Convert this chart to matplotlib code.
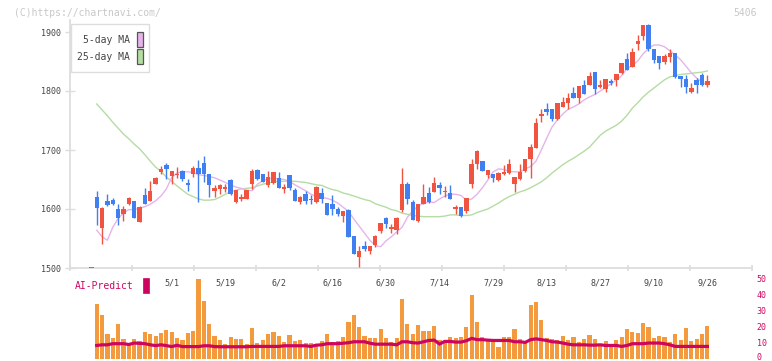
import matplotlib
matplotlib.use("Agg")
import matplotlib.pyplot as plt
from matplotlib.patches import Rectangle
from matplotlib.transforms import ScaledTranslation
import numpy as np
import pandas as pd

# ---------------- data ----------------
holidays = ["2025-04-29", "2025-05-05", "2025-05-06", "2025-07-21",
            "2025-08-11", "2025-09-15", "2025-09-23"]
dates = pd.bdate_range("2025-04-10", "2025-09-26", freq="C", holidays=holidays)

opens = [1620, 1568, 1613, 1615, 1600, 1592, 1609, 1614, 1578, 1624,
         1614, 1643, 1663, 1675, 1656, 1658, 1664, 1644, 1660, 1669,
         1678, 1659, 1631, 1634, 1634, 1649, 1612, 1617, 1617, 1643,
         1666, 1659, 1640, 1644, 1653, 1634, 1658, 1632, 1612, 1625,
         1617, 1612, 1627, 1610, 1608, 1600, 1588, 1598, 1554, 1519,
         1538, 1529, 1539, 1563, 1585, 1566, 1565, 1599, 1642, 1612,
         1580, 1609, 1627, 1629, 1641, 1628, 1627, 1600, 1603, 1597,
         1643, 1676, 1681, 1658, 1659, 1650, 1659, 1661, 1642, 1651,
         1664, 1685, 1704, 1758, 1769, 1769, 1753, 1773, 1780, 1796,
         1788, 1811, 1811, 1832, 1807, 1803, 1817, 1819, 1831, 1854,
         1841, 1879, 1894, 1912, 1871, 1859, 1849, 1858, 1864, 1825,
         1820, 1798, 1819, 1827, 1810]
highs = [1631, 1603, 1625, 1619, 1608, 1605, 1620, 1614, 1605, 1635,
         1647, 1654, 1673, 1678, 1665, 1671, 1666, 1651, 1673, 1683,
         1690, 1659, 1641, 1642, 1642, 1651, 1633, 1625, 1633, 1667,
         1667, 1659, 1664, 1663, 1663, 1642, 1658, 1635, 1622, 1630,
         1624, 1639, 1636, 1610, 1624, 1603, 1597, 1600, 1554, 1538,
         1546, 1537, 1556, 1576, 1587, 1574, 1587, 1669, 1646, 1615,
         1608, 1643, 1637, 1654, 1646, 1639, 1641, 1607, 1603, 1619,
         1685, 1700, 1682, 1666, 1659, 1663, 1675, 1684, 1654, 1676,
         1685, 1711, 1755, 1770, 1779, 1769, 1779, 1789, 1796, 1807,
         1809, 1818, 1832, 1832, 1818, 1820, 1820, 1829, 1848, 1864,
         1873, 1895, 1912, 1914, 1871, 1859, 1863, 1872, 1864, 1825,
         1827, 1813, 1822, 1831, 1827]
lows = [1573, 1540, 1605, 1607, 1573, 1580, 1607, 1585, 1578, 1609,
        1614, 1642, 1659, 1651, 1642, 1652, 1647, 1631, 1655, 1612,
        1646, 1621, 1621, 1625, 1629, 1624, 1611, 1614, 1617, 1634,
        1649, 1645, 1637, 1642, 1636, 1627, 1633, 1614, 1608, 1608,
        1608, 1610, 1610, 1590, 1590, 1588, 1578, 1553, 1524, 1502,
        1529, 1524, 1536, 1559, 1568, 1560, 1558, 1595, 1609, 1581,
        1578, 1609, 1610, 1628, 1626, 1621, 1617, 1592, 1587, 1594,
        1636, 1668, 1664, 1652, 1645, 1648, 1658, 1659, 1629, 1649,
        1663, 1653, 1703, 1748, 1759, 1750, 1751, 1773, 1770, 1788,
        1780, 1795, 1810, 1795, 1805, 1799, 1811, 1808, 1829, 1836,
        1841, 1869, 1887, 1867, 1848, 1837, 1845, 1850, 1822, 1807,
        1797, 1796, 1797, 1809, 1807]
closes = [1602, 1602, 1606, 1608, 1584, 1600, 1619, 1585, 1603, 1609,
          1630, 1653, 1668, 1668, 1665, 1660, 1651, 1641, 1669, 1660,
          1659, 1641, 1636, 1641, 1637, 1625, 1632, 1621, 1632, 1664,
          1651, 1645, 1655, 1663, 1636, 1637, 1636, 1614, 1620, 1614,
          1615, 1637, 1617, 1590, 1600, 1591, 1597, 1553, 1524, 1529,
          1533, 1537, 1554, 1576, 1574, 1569, 1585, 1642, 1617, 1581,
          1608, 1620, 1612, 1644, 1636, 1630, 1617, 1603, 1588, 1619,
          1676, 1698, 1665, 1666, 1653, 1661, 1663, 1676, 1654, 1663,
          1685, 1705, 1746, 1761, 1765, 1753, 1779, 1781, 1788, 1788,
          1809, 1795, 1825, 1803, 1810, 1820, 1814, 1829, 1848, 1836,
          1866, 1885, 1912, 1871, 1853, 1848, 1859, 1864, 1824, 1820,
          1807, 1805, 1811, 1810, 1817]

ma5 = [1564, 1553, 1547, 1569, 1584, 1593, 1599, 1599, 1601, 1604,
       1608, 1614, 1622, 1634, 1653, 1661, 1663, 1663, 1662, 1658,
       1657, 1655, 1653, 1649, 1645, 1641, 1637, 1635, 1632, 1631,
       1642, 1648, 1651, 1652, 1651, 1650, 1647, 1641, 1636, 1631,
       1625, 1621, 1620, 1618, 1615, 1610, 1603, 1596, 1583, 1571,
       1559, 1547, 1538, 1536, 1546, 1553, 1561, 1569, 1586, 1597,
       1605, 1610, 1612, 1611, 1617, 1622, 1625, 1625, 1623, 1615,
       1617, 1625, 1636, 1649, 1663, 1668, 1667, 1664, 1663, 1663,
       1668, 1672, 1681, 1700, 1720, 1739, 1751, 1761, 1769, 1773,
       1778, 1785, 1790, 1794, 1800, 1806, 1812, 1819, 1826, 1838,
       1843, 1851, 1863, 1872, 1878, 1878, 1875, 1868, 1861, 1853,
       1842, 1831, 1822, 1815, 1810]
ma25 = [1778, 1768, 1758, 1747, 1737, 1727, 1719, 1710, 1702, 1692,
        1681, 1671, 1664, 1654, 1647, 1639, 1632, 1625, 1621, 1617,
        1615, 1615, 1616, 1620, 1625, 1629, 1632, 1634, 1635, 1636,
        1639, 1642, 1644, 1646, 1647, 1647, 1647, 1647, 1646, 1645,
        1643, 1641, 1640, 1636, 1633, 1631, 1627, 1625, 1622, 1619,
        1616, 1614, 1609, 1606, 1603, 1599, 1597, 1593, 1591, 1589,
        1588, 1587, 1587, 1587, 1587, 1588, 1590, 1590, 1589, 1589,
        1590, 1594, 1597, 1600, 1605, 1610, 1616, 1621, 1625, 1629,
        1632, 1636, 1641, 1646, 1653, 1661, 1668, 1675, 1681, 1686,
        1692, 1698, 1705, 1715, 1725, 1732, 1737, 1742, 1749, 1759,
        1771, 1780, 1790, 1798, 1805, 1812, 1819, 1824, 1826, 1828,
        1829, 1830, 1831, 1832, 1834]

volume = [33.8, 26.9, 15.0, 12.5, 21.3, 11.9, 8.8, 11.9, 10.6, 16.3,
          15.0, 13.8, 15.6, 17.5, 16.3, 12.5, 11.3, 15.6, 16.9, 49.4,
          35.6, 21.3, 13.8, 11.3, 8.8, 13.1, 11.9, 11.9, 8.8, 18.8,
          9.4, 11.3, 15.0, 16.3, 13.8, 10.0, 14.4, 10.6, 11.3, 9.4,
          9.4, 8.8, 10.6, 15.0, 10.0, 10.6, 13.1, 22.5, 26.9, 19.4,
          13.8, 12.5, 12.5, 18.1, 12.5, 10.0, 12.5, 36.9, 21.3, 15.0,
          20.6, 16.9, 16.9, 20.0, 11.3, 11.3, 13.1, 12.5, 13.1, 19.4,
          39.4, 22.5, 13.1, 11.3, 11.3, 6.9, 13.1, 13.1, 18.1, 11.9,
          9.4, 33.1, 35.0, 23.8, 12.5, 11.9, 11.3, 13.8, 11.3, 13.1,
          10.0, 11.9, 14.4, 11.9, 8.1, 10.6, 8.8, 11.3, 13.1, 18.1,
          16.3, 15.6, 21.9, 19.4, 12.5, 13.8, 13.1, 10.0, 15.0, 11.3,
          18.8, 10.6, 11.9, 15.0, 20.0]
ai_predict = [8.1, 8.5, 8.5, 9.2, 9.2, 9.2, 8.7, 9.6, 9.4, 9.2,
              8.5, 8.0, 8.5, 8.0, 7.4, 8.2, 7.4, 7.4, 7.4, 7.4,
              7.9, 7.9, 7.4, 7.3, 7.3, 7.3, 7.3, 7.3, 7.3, 7.5,
              7.5, 7.5, 7.5, 7.5, 7.5, 7.9, 7.9, 7.9, 7.9, 7.9,
              7.5, 8.3, 8.5, 9.2, 9.2, 9.2, 9.5, 9.8, 10.4, 10.4,
              10.4, 9.5, 8.9, 8.9, 8.9, 8.9, 8.5, 10.4, 10.4, 9.8,
              9.6, 10.4, 11.2, 11.4, 9.0, 10.6, 10.6, 10.2, 10.2, 11.0,
              12.5, 11.7, 11.7, 11.4, 11.2, 11.2, 11.2, 11.2, 10.4, 10.4,
              10.0, 11.7, 12.2, 11.7, 11.2, 10.4, 10.2, 9.6, 8.9, 8.5,
              8.5, 8.5, 8.3, 8.3, 8.5, 8.1, 8.1, 8.1, 7.5, 8.1,
              9.2, 9.2, 9.2, 9.6, 9.6, 9.6, 9.2, 8.5, 7.5, 7.5,
              7.5, 7.5, 7.5, 7.5, 7.5]

# the empty day before the first candle, drawn flat at the bottom edge
ghost_day = -1
ghost_price = 1500

price_ticks = [1500, 1600, 1700, 1800, 1900]
vol_ticks = [0, 10, 20, 30, 40, 50]
label_every = 10
label_start = 14
title_code = "5406"
credit = "(C)https://chartnavi.com/"

# ---------------- style ----------------
W, H = 772, 361
UP = "#f05340"
DOWN = "#3f7ff0"
MA5_C = "#e6b4ea"
MA25_C = "#b5dca2"
VOL_C = "#f39a3f"
AI_C = "#cc0660"
GRID_C = "#dddddd"
TXT_C = "#444444"
MONO = "DejaVu Sans Mono"

fig = plt.figure(figsize=(W / 100, H / 100), dpi=100)
fig.patch.set_facecolor("white")


def frac_box(x0, y0, x1, y1):
    return [x0 / W, 1 - y1 / H, (x1 - x0) / W, (y1 - y0) / H]


ax = fig.add_axes(frac_box(70, 20, 752, 268))
axv = fig.add_axes(frac_box(70, 278, 752, 358.5))

n = len(closes)
idx = np.arange(n)
px_per_day = 5.357
x_left = (70 - 96.7) / px_per_day
x_right = (752 - 96.7) / px_per_day

# ---------------- price panel ----------------
o = np.array(opens, float)
c = np.array(closes, float)
h = np.array(highs, float)
l = np.array(lows, float)
up = c >= o
colors = np.where(up, UP, DOWN)
min_body = 1.7

ax.vlines(idx, l, h, colors=colors, linewidth=1.0, zorder=3)
ax.bar(idx, np.maximum(np.abs(c - o), min_body), bottom=np.minimum(o, c),
       width=0.82, color=colors, linewidth=0, zorder=4)
ax.bar([ghost_day], [min_body], bottom=[ghost_price], width=0.82,
       color=UP, linewidth=0, zorder=6, clip_on=False)

ax.plot(idx, ma25, color=MA25_C, lw=1.0, zorder=2)
ax.plot(idx, ma5, color=MA5_C, lw=1.0, zorder=2)

ax.set_xlim(x_left, x_right)
ax.set_ylim(1500, 1500 + 248 / 0.59)
for s in ["top", "right"]:
    ax.spines[s].set_visible(False)
for s in ["left", "bottom"]:
    ax.spines[s].set_color(GRID_C)
    ax.spines[s].set_linewidth(1.3)
    ax.spines[s].set_zorder(1)

ax.set_yticks(price_ticks)
ax.set_yticklabels([str(p) for p in price_ticks], fontfamily=MONO,
                   fontsize=6, color=TXT_C)
ax.tick_params(axis="y", direction="inout", length=6.5, width=1.0,
               color=GRID_C, pad=3)

tick_step = 62 / px_per_day
major = [x_left + k * tick_step for k in range(12)]
ax.set_xticks(major)
ax.set_xticklabels([])
ax.tick_params(axis="x", which="major", direction="inout", length=5,
               width=1.2, color=GRID_C)
lab_idx = list(range(label_start, n, label_every))
lab_txt = [f"{dates[i].month}/{dates[i].day}" for i in lab_idx]
ax.set_xticks(lab_idx, minor=True)
ax.set_xticklabels(lab_txt, minor=True, fontfamily=MONO, fontsize=6,
                   color=TXT_C)
ax.tick_params(axis="x", which="minor", length=0, pad=7.5)

# ---------------- volume panel ----------------
axv.bar(idx, volume, width=0.78, color=VOL_C, linewidth=0, zorder=2)
axv.plot(idx, ai_predict, color=AI_C, lw=2.3, zorder=3,
         solid_joinstyle="miter")
axv.set_xlim(x_left, x_right)
axv.set_ylim(0, 50)
for s in axv.spines.values():
    s.set_visible(False)
axv.set_xticks([])
axv.yaxis.tick_right()
axv.set_yticks(vol_ticks)
axv.set_yticklabels([str(v) for v in vol_ticks], fontfamily=MONO,
                    fontsize=6, color=AI_C)
axv.tick_params(axis="y", length=0, pad=3.5)
axv.patch.set_alpha(0)
# keep the lowest label inside the picture
zero_lab = axv.get_yticklabels()[0]
zero_lab.set_transform(zero_lab.get_transform() +
                       ScaledTranslation(0, 2.5 / 100, fig.dpi_scale_trans))

# ---------------- overlay (legend, captions) ----------------
ov = fig.add_axes([0, 0, 1, 1], zorder=10)
ov.set_xlim(0, W)
ov.set_ylim(H, 0)
ov.axis("off")
ov.patch.set_alpha(0)

ov.text(14, 12.5, credit, fontfamily=MONO, fontsize=7, color="#c8c8c8",
        va="center", ha="left")
ov.text(757, 12.5, title_code, fontfamily=MONO, fontsize=7, color="#c8c8c8",
        va="center", ha="right")

ov.add_patch(Rectangle((70.5, 24), 78, 47.5, facecolor="white",
                       edgecolor=GRID_C, lw=1.0))
ov.text(130, 40, "5-day MA", fontfamily=MONO, fontsize=7, color=TXT_C,
        ha="right", va="center")
ov.text(130, 57, "25-day MA", fontfamily=MONO, fontsize=7, color=TXT_C,
        ha="right", va="center")
ov.add_patch(Rectangle((136.5, 31.5), 6, 15, facecolor=MA5_C,
                       edgecolor="#555555", lw=0.9))
ov.add_patch(Rectangle((136.5, 48.5), 6, 15, facecolor=MA25_C,
                       edgecolor="#555555", lw=0.9))

ov.text(75, 286, "AI-Predict", fontfamily=MONO, fontsize=7, color=AI_C,
        ha="left", va="center")
ov.add_patch(Rectangle((142.5, 277.5), 6, 15, facecolor=AI_C,
                       edgecolor=AI_C, lw=0.5))

fig.savefig("out.png", dpi=100, facecolor="white")
